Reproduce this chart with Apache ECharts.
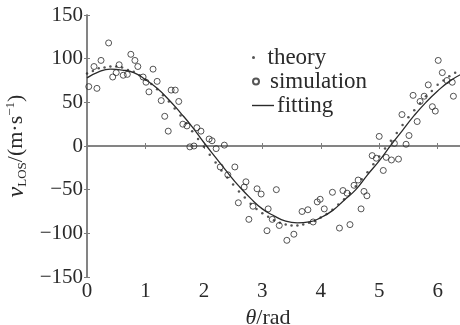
<!DOCTYPE html>
<html>
<head>
<meta charset="utf-8">
<script src="https://cdn.jsdelivr.net/npm/echarts@6/dist/echarts.min.js"></script>
<style>
html,body{margin:0;padding:0;background:#fff;}
#chart{width:460px;height:325px;}
</style>
</head>
<body>
<div id="chart"></div>
<script>
"use strict"

// simulation (circles)
var simTheta = [0.03,0.12,0.17,0.24,0.37,0.44,0.50,0.55,0.62,0.69,0.75,0.82,0.87,0.96,1.01,1.06,1.13,1.20,1.27,1.33,
    1.39,1.44,1.51,1.57,1.64,1.71,1.76,1.83,1.88,1.95,2.09,2.14,2.21,2.28,2.35,2.41,2.53,2.59,2.69,2.72,
    2.77,2.84,2.91,2.98,3.08,3.10,3.17,3.24,3.29,3.42,3.54,3.68,3.78,3.87,3.94,3.99,4.06,4.20,4.32,4.38,
    4.45,4.50,4.57,4.64,4.69,4.74,4.79,4.88,4.95,5.00,5.07,5.12,5.21,5.26,5.33,5.39,5.46,5.51,5.58,5.65,
    5.70,5.77,5.84,5.91,5.96,6.01,6.08,6.16,6.25,6.27];
var simV = [68,91,66,98,118,79,84,93,81,82,105,98,91,79,73,62,88,74,52,34,
    17,64,64,51,25,23,-1,0,21,17,8,6,-3,-24,1,-33,-24,-65,-47,-41,
    -84,-69,-49,-55,-97,-72,-84,-50,-91,-108,-101,-75,-73,-87,-64,-61,-72,-53,-94,-51,
    -54,-90,-45,-39,-72,-52,-57,-11,-14,11,-28,-13,-16,3,-15,36,2,12,58,28,
    51,57,70,45,40,98,84,75,73,57];

// theory (dots)
var theoryTheta = [0,0.1,0.2,0.3,0.4,0.5,0.6,0.7,0.8,0.9,1.0,1.1,1.2,1.3,1.4,1.5,1.6,1.7,1.8,1.9,
    2.0,2.1,2.2,2.3,2.4,2.5,2.6,2.7,2.8,2.9,3.0,3.1,3.2,3.3,3.4,3.5,3.6,3.7,3.8,3.9,
    4.0,4.1,4.2,4.3,4.4,4.5,4.6,4.7,4.8,4.9,5.0,5.1,5.2,5.3,5.4,5.5,5.6,5.7,5.8,5.9,
    6.0,6.1,6.2,6.3];
var theoryV = [83,86,89,90,91,91,90,87,85,81,76,71,65,58,51,43,35,26,17,8,
    -1,-10,-19,-28,-36,-44,-52,-59,-66,-72,-77,-81,-85,-88,-90,-91,-91,-90,-88,-86,
    -82,-78,-73,-67,-61,-54,-46,-38,-30,-21,-12,-3,6,15,24,33,41,49,57,63,
    70,75,80,84];

// fitting (line)
var fitTheta = [0,0.2,0.4,0.6,0.8,1.0,1.2,1.4,1.6,1.8,2.0,2.2,2.4,2.6,2.8,3.0,3.2,3.4,3.6,3.8,
    4.0,4.2,4.4,4.6,4.8,5.0,5.2,5.4,5.6,5.8,6.0,6.2,6.4];
var fitV = [78,85,88,87,84,76,66,53,38,22,4,-13,-30,-46,-60,-72,-80,-86,-88,-87,
    -82,-74,-62,-50,-33,-17,1,18,35,50,63,74,82];

var seriesNames = ["theory", "simulation", "fitting"];

function pairs(xs, ys){
    var out = [];
    for(let i = 0; i < xs.length; i++){
        out.push([xs[i], ys[i]]);
    }
    return out;
}

var serif = "'Liberation Serif', 'Times New Roman', Times, serif";
var axisColor = "#7d7d7d";
var inkColor = "#2a2a2a";

function minusFmt(v){
    return String(v).replace("-", "\u2212");
}

var chart = echarts.init(document.getElementById("chart"));

var legendText = { fontFamily: serif, fontSize: 23, color: inkColor, padding: [0, 0, 0, -2] };

var option = {
    animation: false,
    grid: { left: 87, top: 15, width: 374, height: 262, containLabel: false, outerBoundsMode: "none" },
    legend: [
        { data: [{ name: seriesNames[0], icon: "circle" }], left: 252, top: 46, itemWidth: 22, itemHeight: 3,
          padding: 0, selectedMode: false, textStyle: legendText },
        { data: [seriesNames[1]], left: 252, top: 70, itemWidth: 22, itemHeight: 6,
          padding: 0, selectedMode: false, textStyle: legendText },
        { data: [{ name: seriesNames[2], icon: "rect" }], left: 252, top: 94, itemWidth: 22, itemHeight: 1.4,
          padding: 0, symbolKeepAspect: false, selectedMode: false, textStyle: legendText }
    ],
    xAxis: [
        {
            type: "value", min: 0, max: 6.4, interval: 1,
            name: "{i|θ}{t|/rad}",
            nameLocation: "middle",
            nameGap: 23,
            nameTextStyle: {
                padding: [0, 12, 0, 0],
                rich: {
                    i: { fontFamily: serif, fontSize: 22, fontStyle: "italic", color: inkColor },
                    t: { fontFamily: serif, fontSize: 22, color: inkColor }
                }
            },
            axisLine: { show: true, lineStyle: { color: axisColor, width: 1.5 } },
            axisTick: { inside: true, length: 3, lineStyle: { color: axisColor } },
            axisLabel: {
                fontFamily: serif, fontSize: 21, color: inkColor, margin: 4,
                formatter: function(v){ return v > 6.3 ? "" : minusFmt(v); }
            },
            splitLine: { show: false }
        },
        {
            type: "value", min: 0, max: 6.4, interval: 1, position: "top",
            axisLine: { show: true, lineStyle: { color: axisColor, width: 1.5 } },
            axisTick: { inside: true, length: 3, lineStyle: { color: axisColor } },
            axisLabel: { show: false },
            splitLine: { show: false }
        }
    ],
    yAxis: [
        {
            type: "value", min: -150, max: 150, interval: 50,
            name: "{i|v}{sub|LOS}{t|/(m·s}{sup|−1}{t|)}",
            nameLocation: "middle",
            nameRotate: 90,
            nameGap: 55,
            nameTextStyle: {
                rich: {
                    i: { fontFamily: serif, fontSize: 24, fontStyle: "italic", color: inkColor, lineHeight: 25 },
                    sub: { fontFamily: serif, fontSize: 13, color: inkColor, verticalAlign: "bottom", lineHeight: 25 },
                    t: { fontFamily: serif, fontSize: 22, color: inkColor, lineHeight: 25 },
                    sup: { fontFamily: serif, fontSize: 13, color: inkColor, verticalAlign: "top", lineHeight: 25 }
                }
            },
            axisLine: { show: true, lineStyle: { color: axisColor, width: 1.5 } },
            axisTick: { inside: true, length: 3, lineStyle: { color: axisColor } },
            axisLabel: { fontFamily: serif, fontSize: 21, color: inkColor, margin: 4, formatter: minusFmt },
            splitLine: { show: false }
        },
        {
            type: "value", min: -150, max: 150, interval: 50, position: "right",
            axisLine: { show: true, lineStyle: { color: axisColor, width: 1.5 } },
            axisTick: { inside: true, length: 3, lineStyle: { color: axisColor } },
            axisLabel: { show: false },
            splitLine: { show: false }
        }
    ],
    series: [
        {
            name: seriesNames[0],
            type: "scatter",
            symbol: "circle",
            symbolSize: 2.5,
            itemStyle: { color: inkColor },
            z: 3,
            data: pairs(theoryTheta, theoryV)
        },
        {
            name: seriesNames[1],
            type: "scatter",
            symbol: "circle",
            symbolSize: 6,
            itemStyle: { color: "rgba(255,255,255,0)", borderColor: inkColor, borderWidth: 1 },
            z: 4,
            data: pairs(simTheta, simV)
        },
        {
            name: seriesNames[2],
            type: "line",
            smooth: true,
            symbol: "none",
            lineStyle: { color: inkColor, width: 1.3 },
            itemStyle: { color: inkColor },
            z: 2,
            data: pairs(fitTheta, fitV)
        }
    ]
};

chart.setOption(option);
</script>
</body>
</html>
